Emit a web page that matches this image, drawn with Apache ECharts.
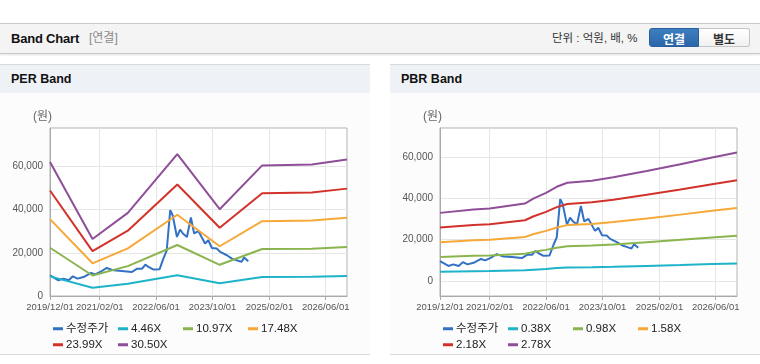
<!DOCTYPE html>
<html><head><meta charset="utf-8">
<script src="https://cdn.jsdelivr.net/npm/echarts@6/dist/echarts.min.js"></script>
<style>
html,body{margin:0;padding:0}
body{width:760px;height:364px;background:#fff;overflow:hidden;position:relative;font-family:'Liberation Sans',Arial,'Noto Sans CJK KR',sans-serif}
#hdr{position:absolute;left:0;top:23px;width:760px;height:29px;background:#f4f4f4;border-top:1px solid #c9c9c9;border-bottom:1px solid #c9c9c9;box-shadow:0 1px 2px rgba(0,0,0,0.12)}
#hdr .t1{position:absolute;left:11px;top:7px;font-weight:bold;font-size:13px;color:#111;line-height:15px;letter-spacing:-0.2px}
#hdr .t2{position:absolute;left:89px;top:7px;font-size:12px;color:#8a8a8a;line-height:15px;font-family:'Liberation Sans','Noto Sans CJK KR',sans-serif}
#hdr .unit{position:absolute;left:552px;top:7px;font-size:11.5px;color:#333;line-height:15px;font-family:'Liberation Sans','Noto Sans CJK KR',sans-serif}
#hdr .btn{position:absolute;top:4px;height:19px;width:50px;text-align:center;line-height:19px;font-size:12px;font-weight:bold;font-family:'Noto Sans CJK KR',sans-serif;box-sizing:border-box}
#hdr .on{left:649px;background:linear-gradient(#3d7fc0,#2a66a8);color:#fff;border:1px solid #2a5f9c;border-radius:3px 0 0 3px}
#hdr .off{left:699px;width:51px;background:linear-gradient(#ffffff,#f1f1f1);color:#333;border:1px solid #c4c4c4;border-left:none;border-radius:0 3px 3px 0}
.panel{position:absolute;top:64px;width:370px;height:289px;border-top:1px solid #d9d9d9;border-bottom:1px solid #d9d9d9;background:#fcfcfc}
.ptitle{position:absolute;left:0;top:0;width:370px;height:28px;background:#eef2f7}
.ptitle span{position:absolute;left:11px;top:7px;font-weight:bold;font-size:12.5px;color:#111;line-height:15px}
.chart{position:absolute;left:0;top:28px;width:370px;height:261px}
</style>
</head><body>
<div id="hdr">
  <span class="t1">Band Chart</span>
  <span class="t2">[연결]</span>
  <span class="unit">단위 : 억원, 배, %</span>
  <span class="btn on">연결</span>
  <span class="btn off">별도</span>
</div>
<div class="panel" style="left:0"><div class="ptitle"><span>PER Band</span></div><div class="chart" id="per"></div></div>
<div class="panel" style="left:390px"><div class="ptitle"><span>PBR Band</span></div><div class="chart" id="pbr"></div></div>
<script>
// ---- tick labels ----
const tickLabels = ['2019/12/01','2021/02/01','2022/06/01','2023/10/01','2025/02/01','2026/06/01'];
const yTicks = [0, 20000, 40000, 60000];

// ---- adjusted price (수정주가) ----
const priceDates = ['2019-12-01','2020-02-12','2020-03-25','2020-05-10','2020-06-15','2020-07-25','2020-09-15','2020-11-18','2020-12-24','2021-02-05','2021-04-03','2021-06-01','2021-08-10','2021-11-05','2021-12-20','2022-02-01','2022-03-01','2022-03-28','2022-05-10','2022-07-01','2022-08-03','2022-09-01','2022-10-01','2022-10-22','2022-11-28','2022-12-25','2023-01-18','2023-02-22','2023-03-28','2023-04-25','2023-06-01','2023-06-28','2023-07-28','2023-08-25','2023-09-25','2023-11-05','2023-12-05','2024-02-01','2024-03-15','2024-04-25','2024-06-05','2024-06-28','2024-08-03'];
const priceValues = [9580,7270,8040,7270,9120,8040,8780,10650,9990,11100,12960,11870,11570,11100,12660,12660,14530,13430,12200,12350,17300,21150,39680,37350,27300,30740,28900,27300,36300,28900,30100,27300,24270,25800,22200,22000,20400,18840,17300,16540,15760,17800,16070];

// ---- PER bands ----
const perDates = ['2019-12-01','2020-12-01','2021-10-01','2022-12-01','2023-12-01','2024-12-01','2026-02-01','2026-12-01'];
const per446  = [9067,3858,5620,9589,5869,8831,8898,9232];
const per1097 = [22302,9489,13822,23586,14437,21721,21885,22708];
const per1748 = [35537,15120,22025,37582,23004,34610,34873,36184];
const per2399 = [48772,20751,30227,51579,31571,47500,47860,49659];
const per3050 = [62007,26383,38430,65575,40138,60390,60848,63135];

// ---- PBR bands ----
const pbrDates = ['2019-12-01','2020-09-15','2021-02-01','2021-12-01','2022-02-15','2022-06-01','2022-09-01','2022-12-01','2023-07-01','2024-01-01','2024-10-15','2025-08-01','2026-05-01','2026-12-01'];
const pbr038 = [4511,4731,4799,5130,5468,5841,6240,6509,6642,6867,7288,7733,8174,8512];
const pbr098 = [11633,12201,12377,13230,14102,15063,16092,16787,17130,17709,18796,19943,21080,21952];
const pbr158 = [18755,19671,19955,21330,22736,24285,25944,27065,27618,28551,30304,32153,33986,35392];
const pbr218 = [25877,27141,27533,29430,31370,33507,35796,37343,38106,39393,41812,44363,46892,48832];
const pbr278 = [32999,34611,35111,37530,40004,42729,45648,47621,48594,50235,53320,56573,59798,62272];

const colors = ['#3271c4','#1db3c9','#8ab54e','#f6a838','#d23229','#8f4e98'];
const axisFont = "'Liberation Sans',Arial,sans-serif";

function ts(s){ return Date.parse(s.replace(/\//g,'-') + 'T00:00:00Z'); }
function pairs(d, v){ return d.map((x,i)=>[ts(x), v[i]]); }
function pad(n){ return (n<10?'0':'')+n; }
function fmtDate(v){ const d=new Date(v); return d.getUTCFullYear()+'/'+pad(d.getUTCMonth()+1)+'/'+pad(d.getUTCDate()); }

function build(names, bandDates, bands, yMin, yMax){
  const series = [{name: names[0], data: pairs(priceDates, priceValues)}]
    .concat(bands.map((b,i)=>({name: names[i+1], data: pairs(bandDates, b)})))
    .map((s,i)=>Object.assign({type:'line', showSymbol:false, symbol:'none', silent:true,
      lineStyle:{width:2, color: colors[i]}, itemStyle:{color: colors[i]}}, s));
  const cols = [53,118,183,248];
  const legends = names.map((n,i)=>({
    data:[n], left: cols[i%4], top: (i<4?230:246), padding:0,
    icon:'rect', itemWidth:10, itemHeight:3, itemGap:0, selectedMode:false,
    textStyle:{fontSize:11.5, color:'#222', padding:[0,0,0,-2], fontFamily:"'Liberation Sans','Noto Sans CJK KR',sans-serif"}
  }));
  const tv = tickLabels.map(ts);
  return {
    animation:false,
    color: colors,
    grid:{left:50, right:23, top:35, bottom:58, show:true, borderColor:'#b3b3b3', borderWidth:1, backgroundColor:'#ffffff'},
    graphic:[{type:'text', left:33, top:18, style:{text:'(원)', fill:'#666', font:"12px 'Liberation Sans','Noto Sans CJK KR', sans-serif"}}],
    legend: legends,
    xAxis:{type:'value', min:ts('2019-12-01'), max:ts('2026-12-01'),
      axisLine:{onZero:false, lineStyle:{color:'#aaaaaa'}},
      axisTick:{show:true, length:4, customValues: tv, lineStyle:{color:'#aaaaaa'}},
      splitLine:{show:true, lineStyle:{color:'#e6e6e6'}},
      axisLabel:{customValues: tv, showMinLabel:true, showMaxLabel:true, hideOverlap:false, margin:6, color:'#555', fontSize:9.5, fontFamily: axisFont, formatter: fmtDate}
    },
    yAxis:{type:'value', min:yMin, max:yMax,
      axisLine:{show:true, onZero:false, lineStyle:{color:'#aaaaaa'}},
      axisTick:{show:false, customValues: yTicks},
      splitLine:{show:true, lineStyle:{color:'#e6e6e6'}},
      axisLabel:{customValues: yTicks, margin:7, color:'#555', fontSize:10, fontFamily: axisFont}
    },
    series: series
  };
}

const perChart = echarts.init(document.getElementById('per'));
perChart.setOption(build(['수정주가','4.46X','10.97X','17.48X','23.99X','30.50X'], perDates, [per446,per1097,per1748,per2399,per3050], 0, 77700));
const pbrChart = echarts.init(document.getElementById('pbr'));
pbrChart.setOption(build(['수정주가','0.38X','0.98X','1.58X','2.18X','2.78X'], pbrDates, [pbr038,pbr098,pbr158,pbr218,pbr278], -7300, 74150));
</script>
</body></html>
